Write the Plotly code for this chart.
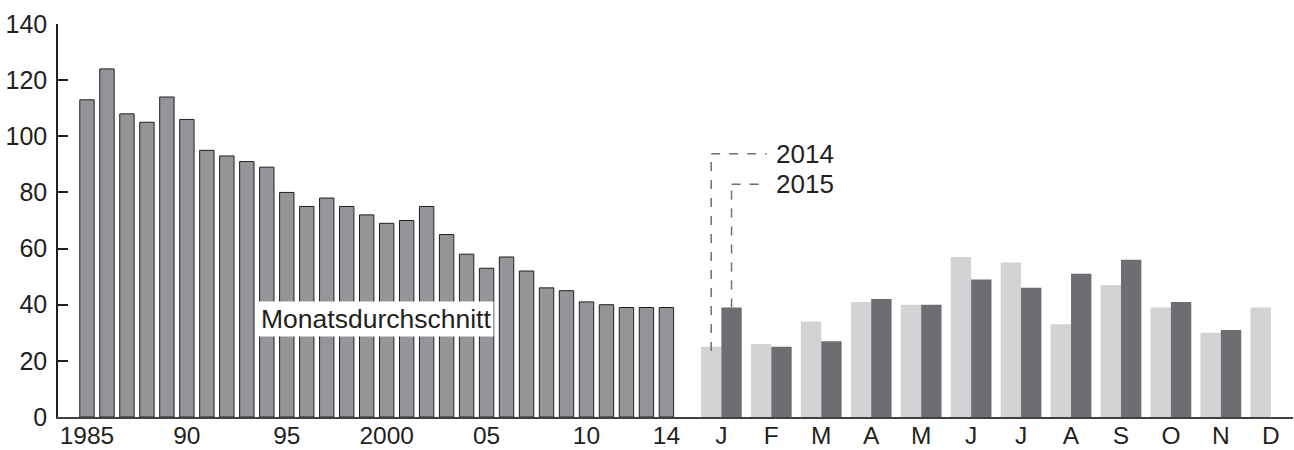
import plotly.graph_objects as go

# ---------------- data ----------------
years = [1985, 1986, 1987, 1988, 1989, 1990, 1991, 1992, 1993, 1994,
         1995, 1996, 1997, 1998, 1999, 2000, 2001, 2002, 2003, 2004,
         2005, 2006, 2007, 2008, 2009, 2010, 2011, 2012, 2013, 2014]
annual = [113, 124, 108, 105, 114, 106, 95, 93, 91, 89,
          80, 75, 78, 75, 72, 69, 70, 75, 65, 58,
          53, 57, 52, 46, 45, 41, 40, 39, 39, 39]
months = ["J", "F", "M", "A", "M", "J", "J", "A", "S", "O", "N", "D"]
v2014 = [25, 26, 34, 41, 40, 57, 55, 33, 47, 39, 30, 39]
v2015 = [39, 25, 27, 42, 40, 49, 46, 51, 56, 41, 31, None]
year_tick_years = [1985, 1990, 1995, 2000, 2005, 2010, 2014]
year_tick_labels = ["1985", "90", "95", "2000", "05", "10", "14"]
label_avg = "Monatsdurchschnitt"
label_2014 = "2014"
label_2015 = "2015"

# ---------------- layout helpers ----------------
TXT = "#231f20"
x_year = [y - years[0] for y in years]
month_gap = 2.75
month_step = 2.5
x_month = [x_year[-1] + month_gap + i * month_step for i in range(len(months))]
bw = 1.02

fig = go.Figure()
fig.add_trace(go.Bar(x=x_year, y=annual, width=0.72,
                     marker=dict(color="#939598", line=dict(color=TXT, width=1))))
fig.add_trace(go.Bar(x=x_month, y=v2014, width=bw, offset=-bw,
                     marker=dict(color="#d1d3d4", line=dict(width=0))))
fig.add_trace(go.Bar(x=x_month, y=v2015, width=bw, offset=0,
                     marker=dict(color="#6d6e71", line=dict(width=0))))

tickvals = [y - years[0] for y in year_tick_years] + x_month
ticktext = year_tick_labels + months

# leader lines
x14 = x_month[0] - bw / 2
x15 = x_month[0] + bw / 2
xh_end = 34.02
y_lab14 = 93.8
y_lab15 = 82.9
dash = dict(color="#6d6e71", width=1.5, dash="dash")
shapes = [
    dict(type="line", xref="x", yref="y", x0=x14, x1=x14, y0=v2014[0] - 1.5, y1=y_lab14, line=dash),
    dict(type="line", xref="x", yref="y", x0=x14, x1=xh_end, y0=y_lab14, y1=y_lab14, line=dash),
    dict(type="line", xref="x", yref="y", x0=x15, x1=x15, y0=v2015[0], y1=y_lab15, line=dash),
    dict(type="line", xref="x", yref="y", x0=x15, x1=xh_end, y0=y_lab15, y1=y_lab15, line=dash),
]

annotations = [
    dict(x=14.46, y=35, xref="x", yref="y", text=label_avg, showarrow=False,
         bgcolor="white", borderpad=2, font=dict(size=26.5, color=TXT)),
    dict(x=xh_end + 0.35, y=y_lab14, xref="x", yref="y", text=label_2014, showarrow=False,
         xanchor="left", font=dict(size=26, color=TXT)),
    dict(x=xh_end + 0.35, y=y_lab15, xref="x", yref="y", text=label_2015, showarrow=False,
         xanchor="left", font=dict(size=26, color=TXT)),
]

fig.update_layout(
    width=1294, height=450,
    margin=dict(l=58, r=1, t=24, b=33),
    plot_bgcolor="white", paper_bgcolor="white",
    barmode="overlay", showlegend=False,
    font=dict(family="Liberation Sans, Arial, sans-serif", size=25, color=TXT),
    xaxis=dict(range=[-1.45, 60.36], showgrid=False, zeroline=False, automargin=False,
               showline=True, linecolor="#414042", linewidth=2,
               tickmode="array", tickvals=tickvals, ticktext=ticktext,
               ticks="", ticklabelstandoff=-4, tickfont=dict(size=24.5, color=TXT)),
    yaxis=dict(range=[0, 140], dtick=20, showgrid=False, zeroline=False, automargin=False,
               showline=True, linecolor=TXT, linewidth=1.5,
               ticks="inside", ticklen=10, tickwidth=1.5, tickcolor=TXT,
               ticklabelstandoff=4, tickfont=dict(size=25, color=TXT)),
    shapes=shapes, annotations=annotations,
)

fig.write_html("out.html", config={"displayModeBar": False},
               post_script="document.body.style.margin='0';document.body.style.overflow='hidden';")
